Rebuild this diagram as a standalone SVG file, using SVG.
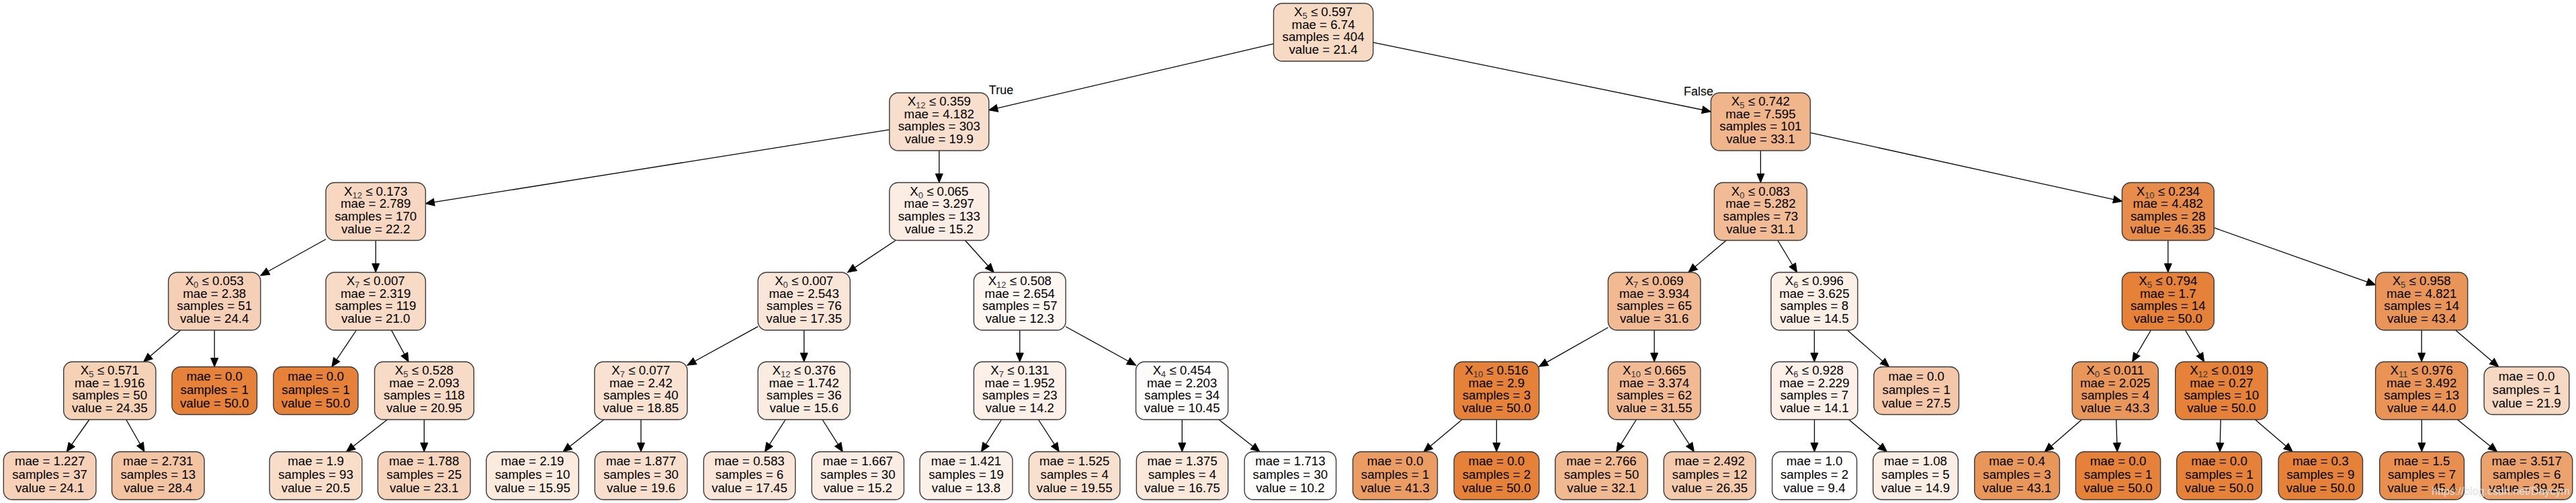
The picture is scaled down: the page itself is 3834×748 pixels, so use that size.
<svg xmlns="http://www.w3.org/2000/svg" width="3834" height="748" viewBox="0 0 3834 748">
<style>
.n{stroke:#3a3a3a;stroke-width:1.4}
.t{font-family:"Liberation Sans",Arial,sans-serif;font-size:18.7px;text-anchor:middle;fill:#000}
.s{font-size:13px;fill:#333}
.e{stroke:#000;stroke-width:1.3;fill:none;marker-end:url(#ah)}
.lb{font-family:"Liberation Sans",Arial,sans-serif;font-size:18px;text-anchor:middle;fill:#000}
.wm{font-family:"Liberation Sans",Arial,sans-serif;font-size:16px;text-anchor:middle;fill:#ffffff;fill-opacity:0.85;stroke:#999;stroke-width:0.4;stroke-opacity:0.6}
</style>
<defs>
<marker id="ah" markerUnits="userSpaceOnUse" markerWidth="14" markerHeight="12" refX="13" refY="5.5" orient="auto" overflow="visible"><path d="M0,0 L13,5.5 L0,11 z" fill="#000" stroke="#000" stroke-width="1"/></marker>
</defs>
<rect width="3834" height="748" fill="#fff"/>
<g id="edges">
<line class="e" x1="1895.5" y1="65.2" x2="1471.8" y2="163.8"/>
<line class="e" x1="2043.7" y1="63.1" x2="2546.4" y2="165.9"/>
<line class="e" x1="1323.8" y1="192.8" x2="633.4" y2="302.7"/>
<line class="e" x1="1397.8" y1="224" x2="1397.8" y2="271.5"/>
<line class="e" x1="2620.4" y1="224" x2="2620.4" y2="271.5"/>
<line class="e" x1="2694.4" y1="197.3" x2="3158.4" y2="299.4"/>
<line class="e" x1="485" y1="355.8" x2="387.8" y2="409.8"/>
<line class="e" x1="559.2" y1="357.5" x2="559.2" y2="405"/>
<line class="e" x1="1333" y1="357.5" x2="1261.5" y2="405"/>
<line class="e" x1="1436.5" y1="357.5" x2="1479.2" y2="405"/>
<line class="e" x1="2569.2" y1="357.5" x2="2513" y2="405"/>
<line class="e" x1="2645.9" y1="357.5" x2="2674.5" y2="405"/>
<line class="e" x1="3226.8" y1="357.5" x2="3226.8" y2="405"/>
<line class="e" x1="3295.2" y1="338.7" x2="3535.6" y2="423.7"/>
<line class="e" x1="268.8" y1="491" x2="213.7" y2="538"/>
<line class="e" x1="319.2" y1="491" x2="319.2" y2="545.5"/>
<line class="e" x1="530.4" y1="491" x2="493.8" y2="545.5"/>
<line class="e" x1="582.5" y1="491" x2="608.1" y2="538"/>
<line class="e" x1="1128.1" y1="485.6" x2="1022.9" y2="543.2"/>
<line class="e" x1="1196.7" y1="491" x2="1196.7" y2="538"/>
<line class="e" x1="1517.8" y1="491" x2="1517.8" y2="538"/>
<line class="e" x1="1586.2" y1="485.7" x2="1690.6" y2="543.2"/>
<line class="e" x1="2393.4" y1="487" x2="2290.7" y2="545.1"/>
<line class="e" x1="2462.2" y1="491" x2="2462.2" y2="538"/>
<line class="e" x1="2700.4" y1="491" x2="2700.4" y2="538"/>
<line class="e" x1="2749.5" y1="491" x2="2811.7" y2="545.5"/>
<line class="e" x1="3201.4" y1="491" x2="3173.6" y2="538"/>
<line class="e" x1="3252.5" y1="491" x2="3280.6" y2="538"/>
<line class="e" x1="3604.2" y1="491" x2="3604.2" y2="538"/>
<line class="e" x1="3654.7" y1="491" x2="3718.8" y2="545.5"/>
<line class="e" x1="132.9" y1="624" x2="99.2" y2="671.7"/>
<line class="e" x1="187.8" y1="624" x2="215" y2="671.7"/>
<line class="e" x1="576.4" y1="624" x2="515.5" y2="671.7"/>
<line class="e" x1="631.3" y1="624" x2="631.3" y2="671.7"/>
<line class="e" x1="898.9" y1="624" x2="838" y2="671.7"/>
<line class="e" x1="954" y1="624" x2="954" y2="671.7"/>
<line class="e" x1="1169.1" y1="624" x2="1138.4" y2="671.7"/>
<line class="e" x1="1224" y1="624" x2="1254.2" y2="671.7"/>
<line class="e" x1="1490.6" y1="624" x2="1460.5" y2="671.7"/>
<line class="e" x1="1545.5" y1="624" x2="1576.3" y2="671.7"/>
<line class="e" x1="1759.4" y1="624" x2="1759.4" y2="671.7"/>
<line class="e" x1="1814.1" y1="624" x2="1875" y2="671.7"/>
<line class="e" x1="2176" y1="624" x2="2119" y2="671.7"/>
<line class="e" x1="2227.4" y1="624" x2="2227.4" y2="671.7"/>
<line class="e" x1="2435.4" y1="624" x2="2405.7" y2="671.7"/>
<line class="e" x1="2490.3" y1="624" x2="2521.4" y2="671.7"/>
<line class="e" x1="2700.5" y1="624" x2="2700.5" y2="671.7"/>
<line class="e" x1="2751.7" y1="624" x2="2808.5" y2="671.7"/>
<line class="e" x1="3098.4" y1="624" x2="3043.2" y2="671.7"/>
<line class="e" x1="3149.7" y1="624" x2="3151.3" y2="671.7"/>
<line class="e" x1="3305.2" y1="624" x2="3303.9" y2="671.7"/>
<line class="e" x1="3356.5" y1="624" x2="3412.2" y2="671.7"/>
<line class="e" x1="3604.4" y1="624" x2="3604.4" y2="671.7"/>
<line class="e" x1="3657.5" y1="624" x2="3716.6" y2="671.7"/>
<text class="lb" x="1490" y="140">True</text>
<text class="lb" x="2528" y="141.5">False</text>
</g>

<g id="n0"><rect class="n" x="1895.5" y="5" width="148.2" height="86" rx="13" fill="#f7dac4"/><text class="t" x="1969.6" y="24">X<tspan class="s" dy="4">5</tspan><tspan dy="-4"> ≤ 0.597</tspan><tspan x="1969.6" dy="18.7">mae = 6.74</tspan><tspan x="1969.6" dy="18.7">samples = 404</tspan><tspan x="1969.6" dy="18.7">value = 21.4</tspan></text></g>

<g id="n1"><rect class="n" x="1323.8" y="138" width="148" height="86" rx="13" fill="#f8decc"/><text class="t" x="1397.8" y="157">X<tspan class="s" dy="4">12</tspan><tspan dy="-4"> ≤ 0.359</tspan><tspan x="1397.8" dy="18.7">mae = 4.182</tspan><tspan x="1397.8" dy="18.7">samples = 303</tspan><tspan x="1397.8" dy="18.7">value = 19.9</tspan></text></g>

<g id="n2"><rect class="n" x="2546.4" y="138" width="148" height="86" rx="13" fill="#f0b58b"/><text class="t" x="2620.4" y="157">X<tspan class="s" dy="4">5</tspan><tspan dy="-4"> ≤ 0.742</tspan><tspan x="2620.4" dy="18.7">mae = 7.595</tspan><tspan x="2620.4" dy="18.7">samples = 101</tspan><tspan x="2620.4" dy="18.7">value = 33.1</tspan></text></g>

<g id="n3"><rect class="n" x="485" y="271.5" width="148.4" height="86" rx="13" fill="#f7d7c1"/><text class="t" x="559.2" y="290.5">X<tspan class="s" dy="4">12</tspan><tspan dy="-4"> ≤ 0.173</tspan><tspan x="559.2" dy="18.7">mae = 2.789</tspan><tspan x="559.2" dy="18.7">samples = 170</tspan><tspan x="559.2" dy="18.7">value = 22.2</tspan></text></g>

<g id="n4"><rect class="n" x="1323.8" y="271.5" width="148" height="86" rx="13" fill="#fbede3"/><text class="t" x="1397.8" y="290.5">X<tspan class="s" dy="4">0</tspan><tspan dy="-4"> ≤ 0.065</tspan><tspan x="1397.8" dy="18.7">mae = 3.297</tspan><tspan x="1397.8" dy="18.7">samples = 133</tspan><tspan x="1397.8" dy="18.7">value = 15.2</tspan></text></g>

<g id="n5"><rect class="n" x="2551.4" y="271.5" width="138" height="86" rx="13" fill="#f1bc95"/><text class="t" x="2620.4" y="290.5">X<tspan class="s" dy="4">0</tspan><tspan dy="-4"> ≤ 0.083</tspan><tspan x="2620.4" dy="18.7">mae = 5.282</tspan><tspan x="2620.4" dy="18.7">samples = 73</tspan><tspan x="2620.4" dy="18.7">value = 31.1</tspan></text></g>

<g id="n6"><rect class="n" x="3158.4" y="271.5" width="136.8" height="86" rx="13" fill="#e78c4b"/><text class="t" x="3226.8" y="290.5">X<tspan class="s" dy="4">10</tspan><tspan dy="-4"> ≤ 0.234</tspan><tspan x="3226.8" dy="18.7">mae = 4.482</tspan><tspan x="3226.8" dy="18.7">samples = 28</tspan><tspan x="3226.8" dy="18.7">value = 46.35</tspan></text></g>

<g id="n7"><rect class="n" x="250.6" y="405" width="137.2" height="86" rx="13" fill="#f5d0b6"/><text class="t" x="319.2" y="424">X<tspan class="s" dy="4">0</tspan><tspan dy="-4"> ≤ 0.053</tspan><tspan x="319.2" dy="18.7">mae = 2.38</tspan><tspan x="319.2" dy="18.7">samples = 51</tspan><tspan x="319.2" dy="18.7">value = 24.4</tspan></text></g>

<g id="n8"><rect class="n" x="485" y="405" width="148.4" height="86" rx="13" fill="#f8dbc6"/><text class="t" x="559.2" y="424">X<tspan class="s" dy="4">7</tspan><tspan dy="-4"> ≤ 0.007</tspan><tspan x="559.2" dy="18.7">mae = 2.319</tspan><tspan x="559.2" dy="18.7">samples = 119</tspan><tspan x="559.2" dy="18.7">value = 21.0</tspan></text></g>

<g id="n9"><rect class="n" x="1128.1" y="405" width="137.2" height="86" rx="13" fill="#fae6d8"/><text class="t" x="1196.7" y="424">X<tspan class="s" dy="4">0</tspan><tspan dy="-4"> ≤ 0.007</tspan><tspan x="1196.7" dy="18.7">mae = 2.543</tspan><tspan x="1196.7" dy="18.7">samples = 76</tspan><tspan x="1196.7" dy="18.7">value = 17.35</tspan></text></g>

<g id="n10"><rect class="n" x="1449.4" y="405" width="136.8" height="86" rx="13" fill="#fdf6f1"/><text class="t" x="1517.8" y="424">X<tspan class="s" dy="4">12</tspan><tspan dy="-4"> ≤ 0.508</tspan><tspan x="1517.8" dy="18.7">mae = 2.654</tspan><tspan x="1517.8" dy="18.7">samples = 57</tspan><tspan x="1517.8" dy="18.7">value = 12.3</tspan></text></g>

<g id="n11"><rect class="n" x="2393.4" y="405" width="137.6" height="86" rx="13" fill="#f1ba93"/><text class="t" x="2462.2" y="424">X<tspan class="s" dy="4">7</tspan><tspan dy="-4"> ≤ 0.069</tspan><tspan x="2462.2" dy="18.7">mae = 3.934</tspan><tspan x="2462.2" dy="18.7">samples = 65</tspan><tspan x="2462.2" dy="18.7">value = 31.6</tspan></text></g>

<g id="n12"><rect class="n" x="2635.9" y="405" width="129" height="86" rx="13" fill="#fcefe6"/><text class="t" x="2700.4" y="424">X<tspan class="s" dy="4">6</tspan><tspan dy="-4"> ≤ 0.996</tspan><tspan x="2700.4" dy="18.7">mae = 3.625</tspan><tspan x="2700.4" dy="18.7">samples = 8</tspan><tspan x="2700.4" dy="18.7">value = 14.5</tspan></text></g>

<g id="n13"><rect class="n" x="3158.4" y="405" width="136.8" height="86" rx="13" fill="#e58139"/><text class="t" x="3226.8" y="424">X<tspan class="s" dy="4">5</tspan><tspan dy="-4"> ≤ 0.794</tspan><tspan x="3226.8" dy="18.7">mae = 1.7</tspan><tspan x="3226.8" dy="18.7">samples = 14</tspan><tspan x="3226.8" dy="18.7">value = 50.0</tspan></text></g>

<g id="n14"><rect class="n" x="3535.6" y="405" width="137.2" height="86" rx="13" fill="#e99559"/><text class="t" x="3604.2" y="424">X<tspan class="s" dy="4">5</tspan><tspan dy="-4"> ≤ 0.958</tspan><tspan x="3604.2" dy="18.7">mae = 4.821</tspan><tspan x="3604.2" dy="18.7">samples = 14</tspan><tspan x="3604.2" dy="18.7">value = 43.4</tspan></text></g>

<g id="n15"><rect class="n" x="94.7" y="538" width="137.2" height="86" rx="13" fill="#f5d1b6"/><text class="t" x="163.3" y="557">X<tspan class="s" dy="4">5</tspan><tspan dy="-4"> ≤ 0.571</tspan><tspan x="163.3" dy="18.7">mae = 1.916</tspan><tspan x="163.3" dy="18.7">samples = 50</tspan><tspan x="163.3" dy="18.7">value = 24.35</tspan></text></g>

<g id="n16"><rect class="n" x="255.9" y="545.5" width="126.6" height="71" rx="13" fill="#e58139"/><text class="t" x="319.2" y="566.1">mae = 0.0<tspan x="319.2" dy="20">samples = 1</tspan><tspan x="319.2" dy="20">value = 50.0</tspan></text></g>

<g id="n17"><rect class="n" x="407" y="545.5" width="126" height="71" rx="13" fill="#e58139"/><text class="t" x="470" y="566.1">mae = 0.0<tspan x="470" dy="20">samples = 1</tspan><tspan x="470" dy="20">value = 50.0</tspan></text></g>

<g id="n18"><rect class="n" x="557.5" y="538" width="147.8" height="86" rx="13" fill="#f8dbc7"/><text class="t" x="631.4" y="557">X<tspan class="s" dy="4">5</tspan><tspan dy="-4"> ≤ 0.528</tspan><tspan x="631.4" dy="18.7">mae = 2.093</tspan><tspan x="631.4" dy="18.7">samples = 118</tspan><tspan x="631.4" dy="18.7">value = 20.95</tspan></text></g>

<g id="n19"><rect class="n" x="884.9" y="538" width="138" height="86" rx="13" fill="#f9e2d1"/><text class="t" x="953.9" y="557">X<tspan class="s" dy="4">7</tspan><tspan dy="-4"> ≤ 0.077</tspan><tspan x="953.9" dy="18.7">mae = 2.42</tspan><tspan x="953.9" dy="18.7">samples = 40</tspan><tspan x="953.9" dy="18.7">value = 18.85</tspan></text></g>

<g id="n20"><rect class="n" x="1128.1" y="538" width="137.2" height="86" rx="13" fill="#fbece1"/><text class="t" x="1196.7" y="557">X<tspan class="s" dy="4">12</tspan><tspan dy="-4"> ≤ 0.376</tspan><tspan x="1196.7" dy="18.7">mae = 1.742</tspan><tspan x="1196.7" dy="18.7">samples = 36</tspan><tspan x="1196.7" dy="18.7">value = 15.6</tspan></text></g>

<g id="n21"><rect class="n" x="1449.4" y="538" width="136.8" height="86" rx="13" fill="#fcf0e8"/><text class="t" x="1517.8" y="557">X<tspan class="s" dy="4">7</tspan><tspan dy="-4"> ≤ 0.131</tspan><tspan x="1517.8" dy="18.7">mae = 1.952</tspan><tspan x="1517.8" dy="18.7">samples = 23</tspan><tspan x="1517.8" dy="18.7">value = 14.2</tspan></text></g>

<g id="n22"><rect class="n" x="1690.6" y="538" width="137.2" height="86" rx="13" fill="#fefcfa"/><text class="t" x="1759.2" y="557">X<tspan class="s" dy="4">4</tspan><tspan dy="-4"> ≤ 0.454</tspan><tspan x="1759.2" dy="18.7">mae = 2.203</tspan><tspan x="1759.2" dy="18.7">samples = 34</tspan><tspan x="1759.2" dy="18.7">value = 10.45</tspan></text></g>

<g id="n23"><rect class="n" x="2164.1" y="538" width="126.6" height="86" rx="13" fill="#e58139"/><text class="t" x="2227.4" y="557">X<tspan class="s" dy="4">10</tspan><tspan dy="-4"> ≤ 0.516</tspan><tspan x="2227.4" dy="18.7">mae = 2.9</tspan><tspan x="2227.4" dy="18.7">samples = 3</tspan><tspan x="2227.4" dy="18.7">value = 50.0</tspan></text></g>

<g id="n24"><rect class="n" x="2393.4" y="538" width="137.6" height="86" rx="13" fill="#f1ba93"/><text class="t" x="2462.2" y="557">X<tspan class="s" dy="4">10</tspan><tspan dy="-4"> ≤ 0.665</tspan><tspan x="2462.2" dy="18.7">mae = 3.374</tspan><tspan x="2462.2" dy="18.7">samples = 62</tspan><tspan x="2462.2" dy="18.7">value = 31.55</tspan></text></g>

<g id="n25"><rect class="n" x="2635.9" y="538" width="129" height="86" rx="13" fill="#fcf0e8"/><text class="t" x="2700.4" y="557">X<tspan class="s" dy="4">6</tspan><tspan dy="-4"> ≤ 0.928</tspan><tspan x="2700.4" dy="18.7">mae = 2.229</tspan><tspan x="2700.4" dy="18.7">samples = 7</tspan><tspan x="2700.4" dy="18.7">value = 14.1</tspan></text></g>

<g id="n26"><rect class="n" x="2788.9" y="545.5" width="126.6" height="71" rx="13" fill="#f3c7a7"/><text class="t" x="2852.2" y="566.1">mae = 0.0<tspan x="2852.2" dy="20">samples = 1</tspan><tspan x="2852.2" dy="20">value = 27.5</tspan></text></g>

<g id="n27"><rect class="n" x="3084.1" y="538" width="128.2" height="86" rx="13" fill="#e9965a"/><text class="t" x="3148.2" y="557">X<tspan class="s" dy="4">0</tspan><tspan dy="-4"> ≤ 0.011</tspan><tspan x="3148.2" dy="18.7">mae = 2.025</tspan><tspan x="3148.2" dy="18.7">samples = 4</tspan><tspan x="3148.2" dy="18.7">value = 43.3</tspan></text></g>

<g id="n28"><rect class="n" x="3237.7" y="538" width="137.2" height="86" rx="13" fill="#e58139"/><text class="t" x="3306.3" y="557">X<tspan class="s" dy="4">12</tspan><tspan dy="-4"> ≤ 0.019</tspan><tspan x="3306.3" dy="18.7">mae = 0.27</tspan><tspan x="3306.3" dy="18.7">samples = 10</tspan><tspan x="3306.3" dy="18.7">value = 50.0</tspan></text></g>

<g id="n29"><rect class="n" x="3535.6" y="538" width="137.2" height="86" rx="13" fill="#e99456"/><text class="t" x="3604.2" y="557">X<tspan class="s" dy="4">11</tspan><tspan dy="-4"> ≤ 0.976</tspan><tspan x="3604.2" dy="18.7">mae = 3.492</tspan><tspan x="3604.2" dy="18.7">samples = 13</tspan><tspan x="3604.2" dy="18.7">value = 44.0</tspan></text></g>

<g id="n30"><rect class="n" x="3697.2" y="545.5" width="126.6" height="71" rx="13" fill="#f7d8c2"/><text class="t" x="3760.5" y="566.1">mae = 0.0<tspan x="3760.5" dy="20">samples = 1</tspan><tspan x="3760.5" dy="20">value = 21.9</tspan></text></g>

<g id="l1"><rect class="n" x="5.3" y="671.7" width="137.6" height="71.3" rx="13" fill="#f6d1b7"/><text class="t" x="74.1" y="692.3">mae = 1.227<tspan x="74.1" dy="20">samples = 37</tspan><tspan x="74.1" dy="20">value = 24.1</tspan></text></g>
<g id="l2"><rect class="n" x="166.5" y="671.7" width="137.6" height="71.3" rx="13" fill="#f3c4a2"/><text class="t" x="235.3" y="692.3">mae = 2.731<tspan x="235.3" dy="20">samples = 13</tspan><tspan x="235.3" dy="20">value = 28.4</tspan></text></g>
<g id="l3"><rect class="n" x="401.2" y="671.7" width="137.6" height="71.3" rx="13" fill="#f8ddc9"/><text class="t" x="470" y="692.3">mae = 1.9<tspan x="470" dy="20">samples = 93</tspan><tspan x="470" dy="20">value = 20.5</tspan></text></g>
<g id="l4"><rect class="n" x="562.4" y="671.7" width="137.6" height="71.3" rx="13" fill="#f6d4bc"/><text class="t" x="631.2" y="692.3">mae = 1.788<tspan x="631.2" dy="20">samples = 25</tspan><tspan x="631.2" dy="20">value = 23.1</tspan></text></g>
<g id="l5"><rect class="n" x="723.7" y="671.7" width="137.6" height="71.3" rx="13" fill="#fbebdf"/><text class="t" x="792.5" y="692.3">mae = 2.19<tspan x="792.5" dy="20">samples = 10</tspan><tspan x="792.5" dy="20">value = 15.95</tspan></text></g>
<g id="l6"><rect class="n" x="885.3" y="671.7" width="137.6" height="71.3" rx="13" fill="#f8dfcd"/><text class="t" x="954.1" y="692.3">mae = 1.877<tspan x="954.1" dy="20">samples = 30</tspan><tspan x="954.1" dy="20">value = 19.6</tspan></text></g>
<g id="l7"><rect class="n" x="1047.3" y="671.7" width="136.4" height="71.3" rx="13" fill="#fae6d8"/><text class="t" x="1115.5" y="692.3">mae = 0.583<tspan x="1115.5" dy="20">samples = 6</tspan><tspan x="1115.5" dy="20">value = 17.45</tspan></text></g>
<g id="l8"><rect class="n" x="1208.2" y="671.7" width="137.2" height="71.3" rx="13" fill="#fbede3"/><text class="t" x="1276.8" y="692.3">mae = 1.667<tspan x="1276.8" dy="20">samples = 30</tspan><tspan x="1276.8" dy="20">value = 15.2</tspan></text></g>
<g id="l9"><rect class="n" x="1369" y="671.7" width="138" height="71.3" rx="13" fill="#fcf1e9"/><text class="t" x="1438" y="692.3">mae = 1.421<tspan x="1438" dy="20">samples = 19</tspan><tspan x="1438" dy="20">value = 13.8</tspan></text></g>
<g id="l10"><rect class="n" x="1531.4" y="671.7" width="135.6" height="71.3" rx="13" fill="#f8e0ce"/><text class="t" x="1599.2" y="692.3">mae = 1.525<tspan x="1599.2" dy="20">samples = 4</tspan><tspan x="1599.2" dy="20">value = 19.55</tspan></text></g>
<g id="l11"><rect class="n" x="1691.4" y="671.7" width="136.4" height="71.3" rx="13" fill="#fae8db"/><text class="t" x="1759.6" y="692.3">mae = 1.375<tspan x="1759.6" dy="20">samples = 4</tspan><tspan x="1759.6" dy="20">value = 16.75</tspan></text></g>
<g id="l12"><rect class="n" x="1852.2" y="671.7" width="136.4" height="71.3" rx="13" fill="#fefdfb"/><text class="t" x="1920.4" y="692.3">mae = 1.713<tspan x="1920.4" dy="20">samples = 30</tspan><tspan x="1920.4" dy="20">value = 10.2</tspan></text></g>
<g id="l13"><rect class="n" x="2013.5" y="671.7" width="126" height="71.3" rx="13" fill="#eb9c63"/><text class="t" x="2076.5" y="692.3">mae = 0.0<tspan x="2076.5" dy="20">samples = 1</tspan><tspan x="2076.5" dy="20">value = 41.3</tspan></text></g>
<g id="l14"><rect class="n" x="2164.1" y="671.7" width="126.6" height="71.3" rx="13" fill="#e58139"/><text class="t" x="2227.4" y="692.3">mae = 0.0<tspan x="2227.4" dy="20">samples = 2</tspan><tspan x="2227.4" dy="20">value = 50.0</tspan></text></g>
<g id="l15"><rect class="n" x="2314.7" y="671.7" width="137.6" height="71.3" rx="13" fill="#f0b990"/><text class="t" x="2383.5" y="692.3">mae = 2.766<tspan x="2383.5" dy="20">samples = 50</tspan><tspan x="2383.5" dy="20">value = 32.1</tspan></text></g>
<g id="l16"><rect class="n" x="2476.3" y="671.7" width="136.8" height="71.3" rx="13" fill="#f4caac"/><text class="t" x="2544.7" y="692.3">mae = 2.492<tspan x="2544.7" dy="20">samples = 12</tspan><tspan x="2544.7" dy="20">value = 26.35</tspan></text></g>
<g id="l17"><rect class="n" x="2637.6" y="671.7" width="126" height="71.3" rx="13" fill="#ffffff"/><text class="t" x="2700.6" y="692.3">mae = 1.0<tspan x="2700.6" dy="20">samples = 2</tspan><tspan x="2700.6" dy="20">value = 9.4</tspan></text></g>
<g id="l18"><rect class="n" x="2787.8" y="671.7" width="126.6" height="71.3" rx="13" fill="#fbeee4"/><text class="t" x="2851" y="692.3">mae = 1.08<tspan x="2851" dy="20">samples = 5</tspan><tspan x="2851" dy="20">value = 14.9</tspan></text></g>
<g id="l19"><rect class="n" x="2938.8" y="671.7" width="126.6" height="71.3" rx="13" fill="#e9965b"/><text class="t" x="3002" y="692.3">mae = 0.4<tspan x="3002" dy="20">samples = 3</tspan><tspan x="3002" dy="20">value = 43.1</tspan></text></g>
<g id="l20"><rect class="n" x="3089.4" y="671.7" width="126.2" height="71.3" rx="13" fill="#e58139"/><text class="t" x="3152.5" y="692.3">mae = 0.0<tspan x="3152.5" dy="20">samples = 1</tspan><tspan x="3152.5" dy="20">value = 50.0</tspan></text></g>
<g id="l21"><rect class="n" x="3239.7" y="671.7" width="126.6" height="71.3" rx="13" fill="#e58139"/><text class="t" x="3303" y="692.3">mae = 0.0<tspan x="3303" dy="20">samples = 1</tspan><tspan x="3303" dy="20">value = 50.0</tspan></text></g>
<g id="l22"><rect class="n" x="3391.1" y="671.7" width="125.4" height="71.3" rx="13" fill="#e58139"/><text class="t" x="3453.8" y="692.3">mae = 0.3<tspan x="3453.8" dy="20">samples = 9</tspan><tspan x="3453.8" dy="20">value = 50.0</tspan></text></g>
<g id="l23"><rect class="n" x="3541.7" y="671.7" width="125.8" height="71.3" rx="13" fill="#e88f4f"/><text class="t" x="3604.6" y="692.3">mae = 1.5<tspan x="3604.6" dy="20">samples = 7</tspan><tspan x="3604.6" dy="20">value = 45.4</tspan></text></g>
<g id="l24"><rect class="n" x="3692.7" y="671.7" width="136" height="71.3" rx="13" fill="#eca26d"/><text class="t" x="3760.7" y="692.3">mae = 3.517<tspan x="3760.7" dy="20">samples = 6</tspan><tspan x="3760.7" dy="20">value = 39.25</tspan></text></g>

<text class="wm" x="3722" y="736">https://blog.csdn.net/Daycym</text>
</svg>
